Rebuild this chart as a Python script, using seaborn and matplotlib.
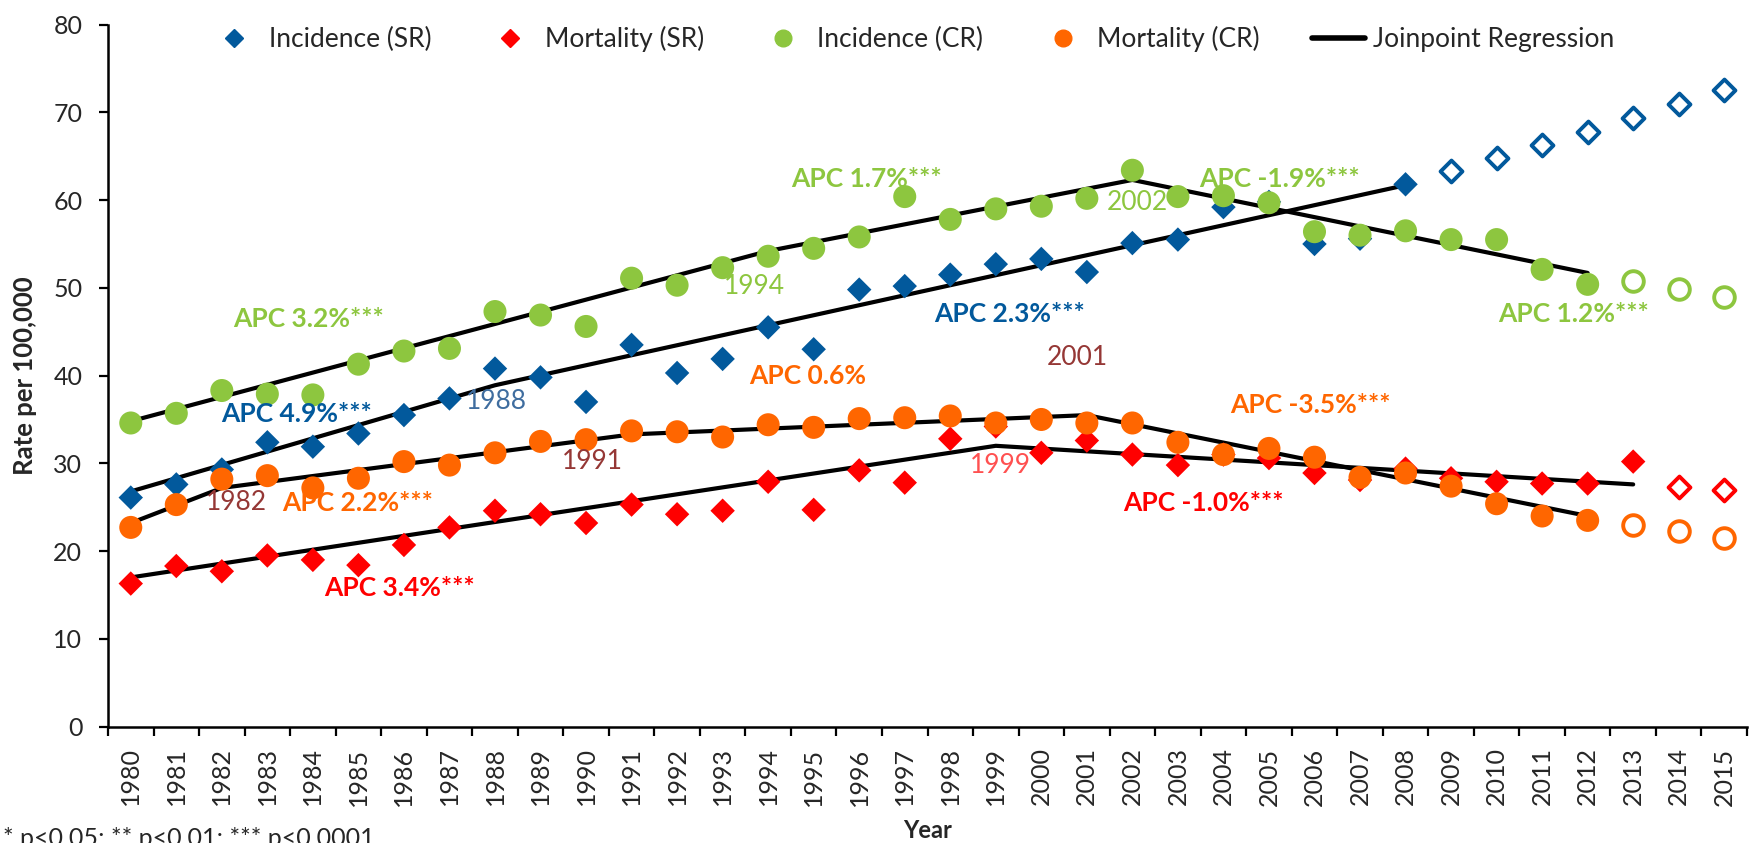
import numpy as np
import pandas as pd
import seaborn as sns
import matplotlib.pyplot as plt
from matplotlib.lines import Line2D

# years on the category axis
years = list(range(1980, 2016))

inc_sr = [26.1, 27.6, 29.3, 32.4, 31.9, 33.4, 35.5, 37.4, 40.8, 39.8, 37.0, 43.5,
          40.3, 41.9, 45.5, 43.0, 49.8, 50.2, 51.5, 52.7, 53.3, 51.8, 55.1, 55.5,
          59.2, 59.8, 55.0, 55.6, 61.8, 63.3, 64.8, 66.3, 67.8, 69.4, 71.0, 72.6]
mort_sr = [16.3, 18.3, 17.7, 19.5, 19.0, 18.4, 20.7, 22.7, 24.6, 24.2, 23.2, 25.3,
           24.2, 24.6, 27.9, 24.7, 29.2, 27.8, 32.8, 34.2, 31.2, 32.6, 31.0, 29.8,
           31.0, 30.6, 28.9, 28.1, 29.4, 28.3, 27.9, 27.7, 27.7, 30.2, 27.3, 27.0]
inc_cr = [34.6, 35.7, 38.3, 37.9, 37.8, 41.3, 42.8, 43.1, 47.3, 46.9, 45.6, 51.1,
          50.3, 52.3, 53.6, 54.5, 55.8, 60.4, 57.8, 59.0, 59.3, 60.2, 63.4, 60.4,
          60.5, 59.7, 56.4, 56.0, 56.5, 55.5, 55.5, 52.1, 50.4, 50.8, 49.9, 49.0]
mort_cr = [22.7, 25.3, 28.2, 28.6, 27.2, 28.3, 30.2, 29.8, 31.2, 32.5, 32.7, 33.7,
           33.6, 33.0, 34.4, 34.1, 35.1, 35.2, 35.4, 34.6, 35.0, 34.6, 34.6, 32.4,
           31.0, 31.7, 30.7, 28.4, 28.9, 27.4, 25.4, 24.0, 23.5, 23.0, 22.3, 21.5]

# last observed year of each series (later years are projections, open markers)
last_obs = {"inc_sr": 2008, "mort_sr": 2013, "inc_cr": 2012, "mort_cr": 2012}

# joinpoint regression segments
jp_inc_sr_years = [1980, 1988, 2008]
jp_inc_sr = [26.8, 38.9, 61.7]
jp_mort_sr_years = [1980, 1999, 2013]
jp_mort_sr = [17.0, 32.0, 27.6]
jp_inc_cr_years = [1980, 1994, 2002, 2012]
jp_inc_cr = [34.8, 54.2, 62.3, 51.7]
jp_mort_cr_years = [1980, 1982, 1991, 2001, 2012]
jp_mort_cr = [23.2, 27.2, 33.3, 35.5, 24.0]

BLUE = "#02599C"
RED = "#FF0000"
GREEN = "#8DC63F"
ORANGE = "#FF6600"
BROWN = "#953735"

sns.set_style("white")
plt.rcParams["font.family"] = ["Lato", "DejaVu Sans"]

fig = plt.figure(figsize=(17.5, 8.43), dpi=100)
ax = fig.add_axes([108 / 1750, 1 - 726.6 / 843, 1639 / 1750, 702 / 843])

# joinpoint lines first, markers on top
for yrs, vals in [(jp_inc_sr_years, jp_inc_sr), (jp_mort_sr_years, jp_mort_sr),
                  (jp_inc_cr_years, jp_inc_cr), (jp_mort_cr_years, jp_mort_cr)]:
    sns.lineplot(x=yrs, y=vals, color="black", linewidth=3.0, ax=ax, zorder=2)

series = [("inc_sr", inc_sr, BLUE, "D", 155),
          ("mort_sr", mort_sr, RED, "D", 155),
          ("inc_cr", inc_cr, GREEN, "o", 275),
          ("mort_cr", mort_cr, ORANGE, "o", 275)]

for key, vals, col, mk, sz in series:
    df = pd.DataFrame({"year": years, "rate": vals})
    obs = df[df.year <= last_obs[key]]
    proj = df[df.year > last_obs[key]]
    sns.scatterplot(data=obs, x="year", y="rate", marker=mk, s=sz, color=col,
                    edgecolor="none", ax=ax, zorder=3)
    sns.scatterplot(data=proj, x="year", y="rate", marker=mk, s=sz * 0.8,
                    facecolor="white", edgecolor=col, linewidth=2.8, ax=ax, zorder=3)

# annotations: (text, x, y, colour, bold)
notes = [
    ("APC 3.2%***", 1983.91, 46.5, GREEN, True),
    ("APC 4.9%***", 1983.63, 35.6, BLUE, True),
    ("1988", 1988.04, 37.0, "#3F6D9F", False),
    ("APC 1.7%***", 1996.17, 62.4, GREEN, True),
    ("1994", 1993.69, 50.2, GREEN, False),
    ("APC 2.3%***", 1999.31, 47.0, BLUE, True),
    ("2001", 2000.78, 42.1, BROWN, False),
    ("APC 0.6%", 1994.87, 39.9, ORANGE, True),
    ("1991", 1990.15, 30.2, BROWN, False),
    ("1982", 1982.33, 25.5, BROWN, False),
    ("APC 2.2%***", 1984.99, 25.5, ORANGE, True),
    ("APC 3.4%***", 1985.91, 15.8, RED, True),
    ("1999", 1999.11, 29.7, "#FF5050", False),
    ("APC -1.9%***", 2005.24, 62.4, GREEN, True),
    ("2002", 2002.10, 59.7, GREEN, False),
    ("APC 1.2%***", 2011.70, 47.0, GREEN, True),
    ("APC -3.5%***", 2005.90, 36.7, ORANGE, True),
    ("APC -1.0%***", 2003.55, 25.5, RED, True),
]
for txt, x, y, col, bold in notes:
    ax.text(x, y, txt, color=col, fontsize=19, ha="center", va="center",
            fontweight="bold" if bold else "normal", zorder=4)

ax.set_xlim(1979.5, 2015.5)
ax.set_ylim(0, 80)
ax.set_yticks(range(0, 81, 10))
ax.set_xticks(years)
ax.set_xticklabels([str(y) for y in years], rotation=90)
ax.set_xticks(np.arange(1979.5, 2016, 1), minor=True)
ax.tick_params(axis="x", which="major", length=0, pad=15, labelsize=18)
ax.tick_params(axis="x", which="minor", length=6.5, width=1.6, direction="out",
               color="black", bottom=True)
ax.tick_params(axis="y", length=6.5, width=1.6, direction="out", color="black",
               left=True, pad=12, labelsize=18)

for side in ["top", "right"]:
    ax.spines[side].set_visible(False)
for side in ["left", "bottom"]:
    ax.spines[side].set_color("black")
    ax.spines[side].set_linewidth(1.8)

ax.set_ylabel("Rate per 100,000", fontsize=18.5, fontweight="bold")
ax.yaxis.set_label_coords(-0.0435, 0.5)
ax.set_xlabel("Year", fontsize=17, fontweight="bold")
ax.xaxis.set_label_coords(0.5, -0.132)

handles = [
    Line2D([], [], marker="D", linestyle="", color=BLUE, markersize=9.5),
    Line2D([], [], marker="D", linestyle="", color=RED, markersize=9.5),
    Line2D([], [], marker="o", linestyle="", color=GREEN, markersize=12),
    Line2D([], [], marker="o", linestyle="", color=ORANGE, markersize=12),
    Line2D([], [], color="black", linewidth=4),
]
labels = ["Incidence (SR)", "Mortality (SR)", "Incidence (CR)", "Mortality (CR)",
          "Joinpoint Regression"]
ax.legend(handles, labels, loc="center", bbox_to_anchor=(0.49, 0.979), ncol=5,
          frameon=False, fontsize=19, handlelength=2, handletextpad=0.3,
          columnspacing=2.0)

fig.text(3 / 1750, 1 - 827 / 843, "* p<0.05; ** p<0.01; *** p<0.0001",
         fontsize=18, ha="left", va="top")

fig.savefig("out.png", dpi=100)
